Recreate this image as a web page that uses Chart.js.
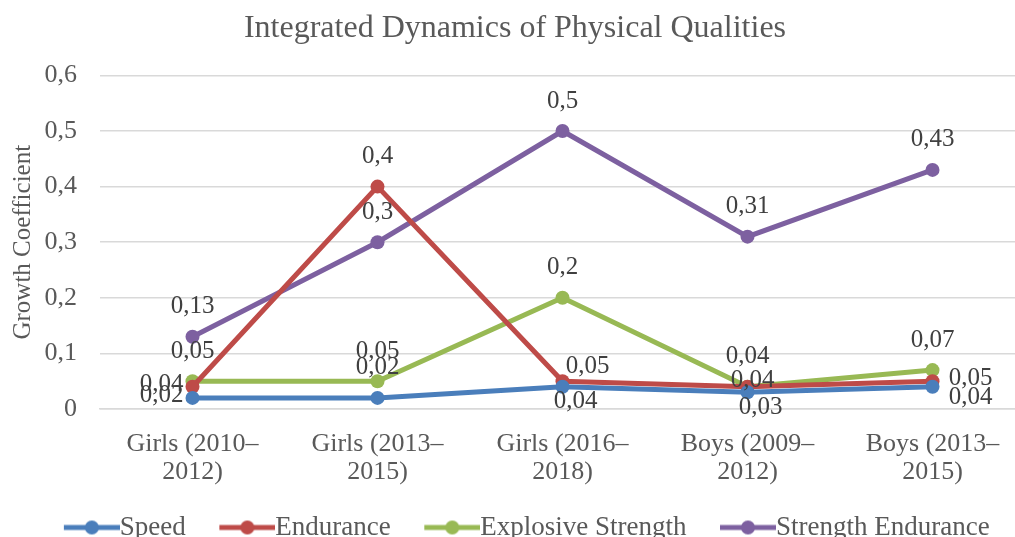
<!DOCTYPE html>
<html>
<head>
<meta charset="utf-8">
<script src="https://cdn.jsdelivr.net/npm/chart.js@4.4.0/dist/chart.umd.min.js"></script>
<style>
  html, body { margin: 0; padding: 0; background: #fff; overflow: hidden; }
  #wrap { width: 1032px; height: 551px; }
</style>
</head>
<body>
<div id="wrap"><canvas id="physChart"></canvas></div>
<script>
const categories = [
    ['Girls (2010–', '2012)'],
    ['Girls (2013–', '2015)'],
    ['Girls (2016–', '2018)'],
    ['Boys (2009–', '2012)'],
    ['Boys (2013–', '2015)']
];
const speed = [0.02, 0.02, 0.04, 0.03, 0.04];
const endurance = [0.04, 0.4, 0.05, 0.04, 0.05];
const explosiveStrength = [0.05, 0.05, 0.2, 0.04, 0.07];
const strengthEndurance = [0.13, 0.3, 0.5, 0.31, 0.43];
const yTicks = [0, 0.1, 0.2, 0.3, 0.4, 0.5, 0.6];

const FONT = '"Liberation Serif", "Times New Roman", serif';
const TEXT = '#595959';

// where each value label sits relative to its point
const labelOffsets = {
    above: [0, -30],
    below: [13, 15],
    left: [-31, -2],
    right: [38, -3],
    rightBelow: [38, 11],
    aboveRight: [25, -15],
    center: [5, -6]
};
const labelPos = [
    ['left', 'above', 'below', 'below', 'rightBelow'],
    ['left', 'above', 'aboveRight', 'center', 'right'],
    ['above', 'above', 'above', 'above', 'above'],
    ['above', 'above', 'above', 'above', 'above']
];

// legend marker: line with a dot, drawn at the right end of a wider transparent image
function legendMarker(color) {
    const c = document.createElement('canvas');
    c.width = 93;
    c.height = 16;
    const g = c.getContext('2d');
    g.strokeStyle = color;
    g.lineWidth = 5;
    g.beginPath();
    g.moveTo(37, 8);
    g.lineTo(93, 8);
    g.stroke();
    g.fillStyle = color;
    g.beginPath();
    g.arc(65, 8, 7, 0, Math.PI * 2);
    g.fill();
    return c;
}

const valueLabels = {
    id: 'valueLabels',
    afterDatasetsDraw(chart) {
        const ctx = chart.ctx;
        ctx.save();
        ctx.font = '25px ' + FONT;
        ctx.fillStyle = '#404040';
        ctx.textAlign = 'center';
        ctx.textBaseline = 'middle';
        chart.data.datasets.forEach((ds, i) => {
            chart.getDatasetMeta(i).data.forEach((pt, j) => {
                const off = labelOffsets[labelPos[i][j]];
                const txt = String(ds.data[j]).replace('.', ',');
                ctx.fillText(txt, pt.x + off[0], pt.y + off[1]);
            });
        });
        ctx.restore();
    }
};

function series(label, data, color) {
    return {
        label: label,
        data: data,
        borderColor: color,
        backgroundColor: color,
        borderWidth: 5,
        pointRadius: 7,
        pointHoverRadius: 7,
        pointBackgroundColor: color,
        pointBorderWidth: 0,
        tension: 0
    };
}

const ctx = document.getElementById('physChart').getContext('2d');
new Chart(ctx, {
    type: 'line',
    data: {
        labels: categories,
        datasets: [
            series('Speed', speed, '#4A7EBB'),
            series('Endurance', endurance, '#BE4B48'),
            series('Explosive Strength', explosiveStrength, '#98B954'),
            series('Strength Endurance', strengthEndurance, '#7D60A0')
        ]
    },
    options: {
        responsive: true,
        maintainAspectRatio: false,
        animation: false,
        layout: {
            padding: { left: 0, right: 2, top: 0, bottom: 0 }
        },
        plugins: {
            title: {
                display: true,
                text: 'Integrated Dynamics of Physical Qualities',
                color: TEXT,
                font: { family: FONT, size: 32, weight: 'normal', lineHeight: 1.2 },
                padding: { top: 9, bottom: 28 }
            },
            legend: {
                position: 'bottom',
                labels: {
                    usePointStyle: true,
                    pointStyleWidth: 66,
                    padding: 10,
                    color: TEXT,
                    font: { family: FONT, size: 27 },
                    generateLabels(chart) {
                        return chart.data.datasets.map((ds, i) => ({
                            text: ds.label,
                            pointStyle: legendMarker(ds.borderColor),
                            fillStyle: ds.borderColor,
                            strokeStyle: ds.borderColor,
                            lineWidth: 0,
                            fontColor: TEXT,
                            hidden: false,
                            datasetIndex: i
                        }));
                    }
                }
            },
            tooltip: { enabled: false }
        },
        scales: {
            x: {
                offset: true,
                grid: { display: false, drawTicks: false },
                border: { display: true, color: '#D9D9D9', width: 1.5 },
                ticks: {
                    color: TEXT,
                    padding: 22,
                    maxRotation: 0,
                    autoSkip: false,
                    font: { family: FONT, size: 26, lineHeight: 1.05 }
                },
                afterFit(scale) { scale.height = 95; }
            },
            y: {
                min: 0,
                max: 0.6,
                afterBuildTicks(scale) {
                    scale.ticks = yTicks.map(v => ({ value: v }));
                },
                grid: { color: '#D9D9D9', lineWidth: 1.5, drawTicks: false },
                border: { display: false },
                ticks: {
                    color: TEXT,
                    padding: 23,
                    font: { family: FONT, size: 26 },
                    callback: v => String(Math.round(v * 10) / 10).replace('.', ',')
                },
                title: {
                    display: true,
                    text: 'Growth Coefficient',
                    color: TEXT,
                    font: { family: FONT, size: 25 },
                    padding: { top: 8, bottom: 0 }
                },
                afterFit(scale) { scale.width = 100; }
            }
        }
    },
    plugins: [valueLabels]
});
</script>
</body>
</html>
